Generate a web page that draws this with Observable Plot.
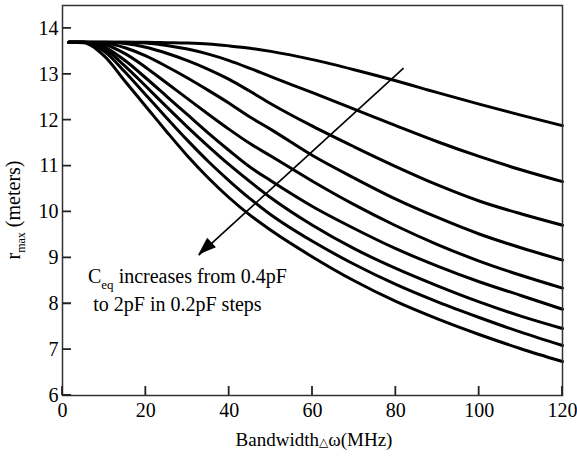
<!DOCTYPE html>
<html><head><meta charset="utf-8">
<script src="https://cdn.jsdelivr.net/npm/d3@7"></script>
<script src="https://cdn.jsdelivr.net/npm/@observablehq/plot@0.6"></script>
<style>
html,body{margin:0;padding:0;background:#fff}
#chart svg{display:block}
#chart svg text{font-family:'Liberation Serif','Times New Roman',serif}
</style>
</head><body><div id="chart"></div>
<script>
// Bandwidth (MHz) sample positions
const bandwidth = [1.5, 5, 10, 15, 20, 25, 30, 35, 40, 45, 50, 60, 70, 80, 90, 100, 110, 120];
const ceqLabels = ["0.4pF","0.6pF","0.8pF","1.0pF","1.2pF","1.4pF","1.6pF","1.8pF","2.0pF"];
// r_max (meters) for each Ceq
const r04 = [13.7,13.7,13.7,13.7,13.7,13.69,13.68,13.66,13.62,13.57,13.5,13.32,13.1,12.86,12.6,12.35,12.11,11.88];
const r06 = [13.7,13.7,13.7,13.7,13.68,13.63,13.55,13.44,13.3,13.13,12.95,12.6,12.24,11.88,11.53,11.21,10.92,10.66];
const r08 = [13.7,13.7,13.7,13.67,13.59,13.46,13.3,13.11,12.89,12.63,12.36,11.87,11.42,10.99,10.59,10.24,9.96,9.71];
const r10 = [13.7,13.7,13.68,13.58,13.4,13.17,12.92,12.65,12.37,12.07,11.8,11.23,10.74,10.28,9.88,9.52,9.22,8.95];
const r12 = [13.7,13.7,13.65,13.45,13.15,12.81,12.47,12.13,11.8,11.49,11.22,10.67,10.16,9.7,9.29,8.93,8.62,8.34];
const r14 = [13.7,13.7,13.6,13.3,12.92,12.52,12.12,11.72,11.34,10.98,10.68,10.12,9.64,9.2,8.82,8.48,8.18,7.88];
const r16 = [13.7,13.7,13.56,13.18,12.74,12.29,11.85,11.43,11.03,10.66,10.31,9.71,9.2,8.77,8.39,8.04,7.73,7.46];
const r18 = [13.7,13.7,13.5,13.05,12.55,12.05,11.56,11.1,10.68,10.29,9.94,9.36,8.86,8.42,8.04,7.7,7.38,7.09];
const r20 = [13.7,13.69,13.4,12.85,12.3,11.75,11.22,10.74,10.31,9.93,9.6,9.02,8.5,8.05,7.67,7.33,7.02,6.74];

const xTicks = [0, 20, 40, 60, 80, 100, 120];
const yTicks = [6, 7, 8, 9, 10, 11, 12, 13, 14];

// annotation arrow (data coords): tail -> tip
const arrowTail = {x: 81.85, y: 13.135};
const arrowTip = {x: 32.7, y: 9.06};
// annotation text anchors (data coords)
const note1 = {x: 6.24, y: 8.45, main: "C", sub: "eq", rest: " increases from 0.4pF"};
const note2 = {x: 7.5, y: 7.84, text: "to 2pF in 0.2pF steps"};

const series = [r04, r06, r08, r10, r12, r14, r16, r18, r20];
const data = series.flatMap((s, i) => s.map((r, j) => ({c: ceqLabels[i], x: bandwidth[j], r})));

// layout
const W = 577, H = 457, mL = 62, mR = 15, mT = 5, mB = 62;
const xDom = [0, 120], yDom = [6, 14.5];
const tickPx = 9;
const tickDX = tickPx * (xDom[1] - xDom[0]) / (W - mL - mR);
const tickDY = tickPx * (yDom[1] - yDom[0]) / (H - mT - mB);
const xTickData = xTicks.map(v => ({x: v, y1: yDom[0], y2: yDom[0] + tickDY}));
const yTickData = yTicks.map(v => ({y: v, x1: xDom[0], x2: xDom[0] + tickDX}));

const plot = Plot.plot({
  width: W, height: H,
  marginLeft: mL, marginRight: mR, marginTop: mT, marginBottom: mB,
  x: {domain: xDom, ticks: xTicks, tickSize: 0, tickPadding: 7, label: null},
  y: {domain: yDom, ticks: yTicks, tickSize: 0, tickPadding: 4, label: null},
  style: {fontSize: "20px", color: "#000", background: "#fff"},
  marks: [
    Plot.line(data, {x: "x", y: "r", z: "c", stroke: "#000", strokeWidth: 3, curve: "monotone-x"}),
    Plot.link([{}], {x1: arrowTail.x, y1: arrowTail.y, x2: arrowTip.x, y2: arrowTip.y, stroke: "#000", strokeWidth: 1.6}),
    Plot.frame({stroke: "#333", strokeWidth: 1.5})
  ]
});

const svg = d3.select(plot);
const sx = plot.scale("x").apply, sy = plot.scale("y").apply;

// inward tick marks (as a path, positioned with the plot's scales)
{
  let d = "";
  for (const t of xTickData) d += `M${sx(t.x)},${sy(t.y1)}V${sy(t.y2)}`;
  for (const t of yTickData) d += `M${sx(t.x1)},${sy(t.y)}H${sx(t.x2)}`;
  svg.append("path").attr("d", d).attr("fill", "none").attr("stroke", "#222").attr("stroke-width", 1.8);
}

// filled arrow head
{
  const tx = sx(arrowTip.x), ty = sy(arrowTip.y);
  const ax = sx(arrowTail.x), ay = sy(arrowTail.y);
  const len = Math.hypot(tx - ax, ty - ay);
  const ux = (tx - ax) / len, uy = (ty - ay) / len;
  const L = 18, w = 6.5;
  const bx = tx - ux * L, by = ty - uy * L;
  const pts = [[tx, ty], [bx - uy * w, by + ux * w], [bx + uy * w, by - ux * w]];
  svg.append("polygon").attr("points", pts.map(p => p.join(",")).join(" ")).attr("fill", "#000");
}

// note lines
{
  const t1 = svg.append("text").attr("x", sx(note1.x)).attr("y", sy(note1.y)).attr("text-anchor", "start")
    .attr("font-size", 20).attr("fill", "#000");
  t1.append("tspan").text(note1.main);
  t1.append("tspan").attr("dy", 6).attr("font-size", 13).text(note1.sub);
  t1.append("tspan").attr("dy", -6).text(note1.rest);
  svg.append("text").attr("x", sx(note2.x)).attr("y", sy(note2.y)).attr("text-anchor", "start")
    .attr("font-size", 20).attr("fill", "#000").text(note2.text);
}

// x axis title
{
  const cx = (sx(0) + sx(120)) / 2 + 2;
  const t = svg.append("text").attr("x", cx).attr("y", 446).attr("text-anchor", "middle")
    .attr("font-size", 19).attr("fill", "#000");
  t.append("tspan").text("Bandwidth");
  t.append("tspan").attr("font-size", 12).attr("font-family", "'DejaVu Sans'").text("△");
  t.append("tspan").text("ω(MHz)");
}
// y axis title
{
  const cy = (sy(6) + sy(14.5)) / 2 + 10;
  const t = svg.append("text").attr("transform", `translate(20,${cy}) rotate(-90)`).attr("text-anchor", "middle")
    .attr("font-size", 20).attr("fill", "#000");
  t.append("tspan").text("r");
  t.append("tspan").attr("dy", 5).attr("font-size", 12).text("max");
  t.append("tspan").attr("dy", -5).text(" (meters)");
}

document.getElementById("chart").appendChild(plot);
</script>
</body></html>
